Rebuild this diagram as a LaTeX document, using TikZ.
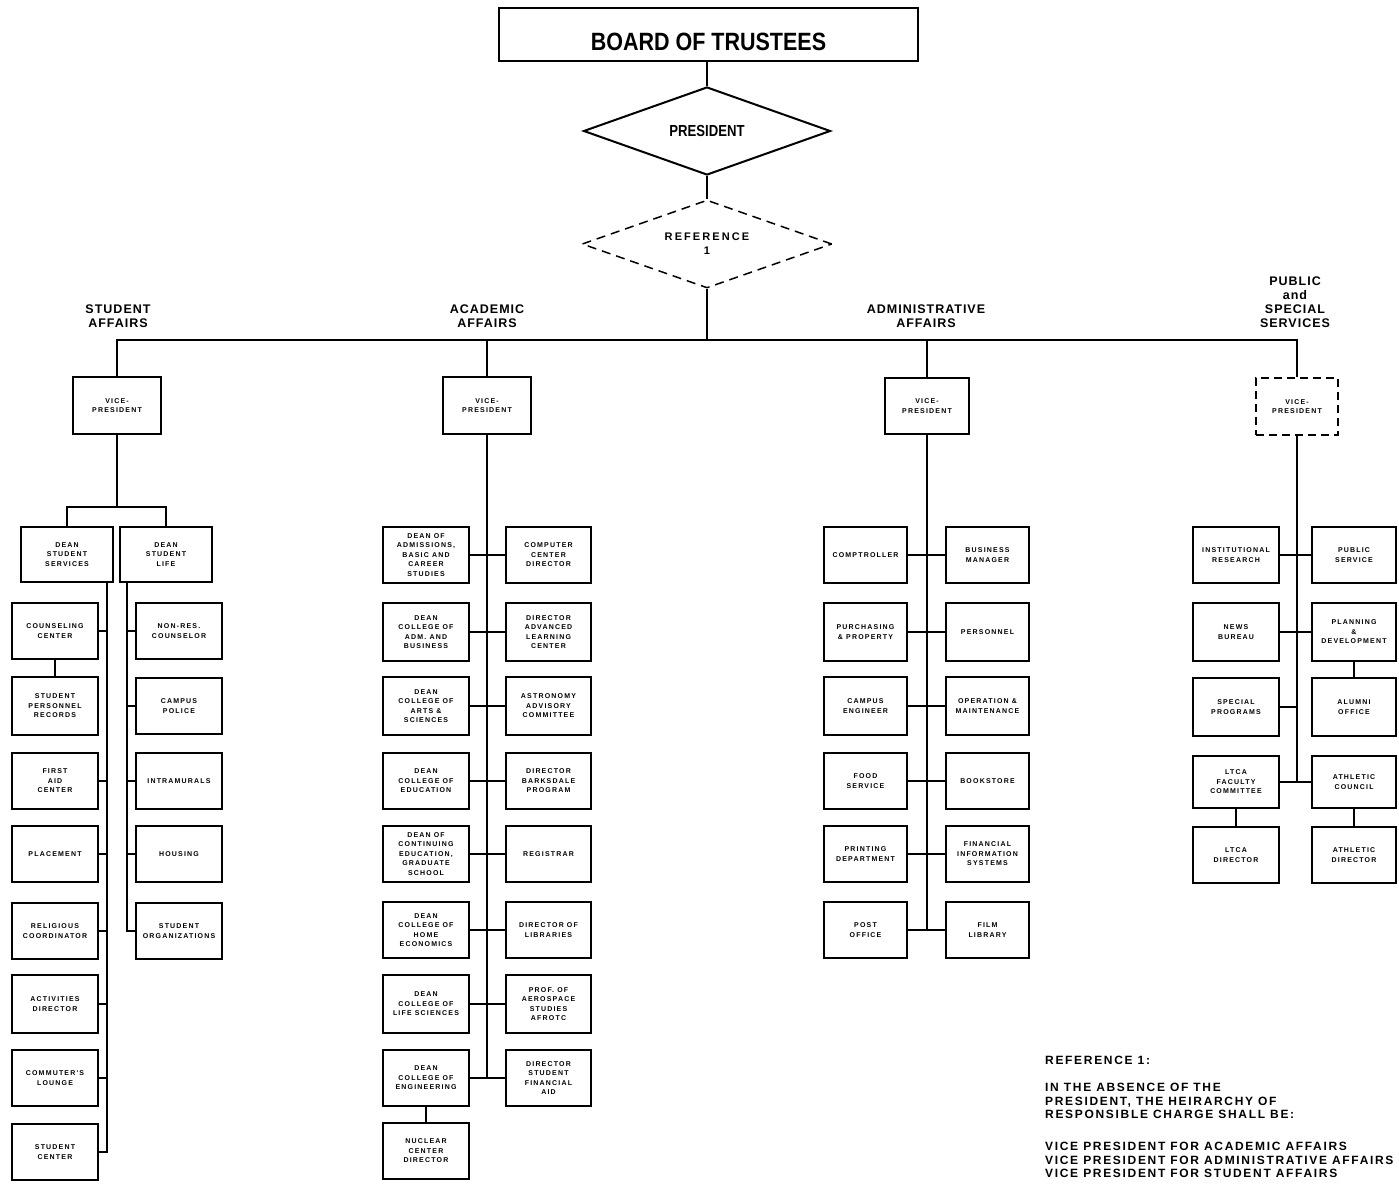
\documentclass[tikz,border=0pt]{standalone}
\usepackage{fontspec}
\setmainfont{Liberation Sans}
\newfontfamily\boxfont[LetterSpace=17]{Liberation Sans}
\newfontfamily\headfont[LetterSpace=8]{Liberation Sans}
\newfontfamily\notefont[LetterSpace=14]{Liberation Sans}
\newfontfamily\reffont[LetterSpace=19]{Liberation Sans}
\usetikzlibrary{shapes.geometric}
\tikzset{
  ob/.style={draw, line width=2pt, rectangle, inner sep=0pt, align=center,
    font=\boxfont\bfseries\fontsize{7}{9.5}\selectfont},
  link/.style={line width=2pt},
  hdr/.style={align=center, inner sep=0pt, font=\headfont\bfseries\fontsize{12.5}{14}\selectfont},
}
\newcommand\orgbox[7][]{\node[ob,#1, minimum width={#5-#3}, minimum height={#6-#4}] (#2) at ({(#3+#5)/2},{(#4+#6)/2}) {#7};}
\begin{document}
\begin{tikzpicture}[x=1pt,y=-1pt]
\useasboundingbox[fill=white] (0,0) rectangle (1399,1186);
% top
\node[draw, line width=2pt, minimum width=419, minimum height=53, inner sep=0pt] (bot) at (708.5,34.5)
  {\raisebox{-15.5pt}[0pt][0pt]{\fontsize{25}{30}\selectfont\bfseries\scalebox{0.86}[1]{BOARD OF TRUSTEES}}};
\node[diamond, draw, line width=2pt, aspect=2.8, minimum width=247, minimum height=88, inner sep=0pt] (pres) at (707,131)
  {\fontsize{16}{18}\selectfont\bfseries\scalebox{0.82}[1]{PRESIDENT}};
\node[diamond, draw, line width=1.5pt, dash pattern=on 9pt off 6pt, aspect=2.8, minimum width=250, minimum height=88, inner sep=0pt,
  align=center, font=\reffont\bfseries\fontsize{11}{14}\selectfont] (ref) at (707,244) {REFERENCE\\1};
\draw[link] (pres.north) -- (pres.north |- bot.south);
\draw[link] (pres.south) -- (ref.north);
% headers
\node[hdr] (hs) at (118,316) {STUDENT\\AFFAIRS};
\node[hdr] (ha) at (487,316) {ACADEMIC\\AFFAIRS};
\node[hdr] (hd) at (926,316) {ADMINISTRATIVE\\AFFAIRS};
\node[hdr] (hp) at (1295,302) {PUBLIC\\and\\SPECIAL\\SERVICES};
% vice presidents
\orgbox{vps}{73}{377}{161}{434}{VICE-\\PRESIDENT}
\orgbox{vpa}{443}{377}{531}{434}{VICE-\\PRESIDENT}
\orgbox{vpd}{885}{378}{969}{434}{VICE-\\PRESIDENT}
\orgbox[dash pattern=on 8pt off 5pt]{vpp}{1256}{378}{1338}{435}{VICE-\\PRESIDENT}
\coordinate (bar) at (0,340);
\draw[link] (vps.north) -- (vps.north |- bar) -- (vpp.north |- bar) -- (vpp.north);
\draw[link] (vpa.north) -- (vpa.north |- bar);
\draw[link] (vpd.north) -- (vpd.north |- bar);
\draw[link] (ref.south) -- (ref.south |- bar);
% student affairs
\orgbox{dss}{21}{527}{113}{582}{DEAN\\STUDENT\\SERVICES}
\orgbox{dsl}{120}{527}{212}{582}{DEAN\\STUDENT\\LIFE}
\orgbox{cc}{12}{603}{98}{659}{COUNSELING\\CENTER}
\orgbox{spr}{12}{677}{98}{735}{STUDENT\\PERSONNEL\\RECORDS}
\orgbox{fa}{12}{753}{98}{809}{FIRST\\AID\\CENTER}
\orgbox{pl}{12}{826}{98}{882}{PLACEMENT}
\orgbox{rc}{12}{903}{98}{959}{RELIGIOUS\\COORDINATOR}
\orgbox{act}{12}{975}{98}{1033}{ACTIVITIES\\DIRECTOR}
\orgbox{cl}{12}{1050}{98}{1106}{COMMUTER'S\\LOUNGE}
\orgbox{sc}{12}{1124}{98}{1180}{STUDENT\\CENTER}
\orgbox{nrc}{136}{603}{222}{659}{NON-RES.\\COUNSELOR}
\orgbox{cp}{136}{678}{222}{734}{CAMPUS\\POLICE}
\orgbox{im}{136}{753}{222}{809}{INTRAMURALS}
\orgbox{ho}{136}{826}{222}{882}{HOUSING}
\orgbox{so}{136}{903}{222}{959}{STUDENT\\ORGANIZATIONS}
\draw[link] (vps.south) -- ++(0,72) coordinate (sj);
\draw[link] (dss.north) -- (dss.north |- sj) -- (dsl.north |- sj) -- (dsl.north);
\coordinate (sT) at (107,582);
\coordinate (lT) at (127,582);
\draw[link] (sT) |- (sc.east);
\foreach \n in {cc,fa,pl,rc,act,cl} \draw[link] (\n.east) -- (\n.east -| sT);
\draw[link] (cc) -- (spr);
\draw[link] (lT) |- (so.west);
\foreach \n in {nrc,cp,im,ho} \draw[link] (\n.west) -- (\n.west -| lT);
% academic affairs
\orgbox{al1}{383}{527}{469}{583}{DEAN OF\\ADMISSIONS,\\BASIC AND\\CAREER\\STUDIES}
\orgbox{al2}{383}{603}{469}{661}{DEAN\\COLLEGE OF\\ADM. AND\\BUSINESS}
\orgbox{al3}{383}{677}{469}{735}{DEAN\\COLLEGE OF\\ARTS \&\\SCIENCES}
\orgbox{al4}{383}{753}{469}{809}{DEAN\\COLLEGE OF\\EDUCATION}
\orgbox{al5}{383}{826}{469}{882}{DEAN OF\\CONTINUING\\EDUCATION,\\GRADUATE\\SCHOOL}
\orgbox{al6}{383}{902}{469}{958}{DEAN\\COLLEGE OF\\HOME\\ECONOMICS}
\orgbox{al7}{383}{975}{469}{1033}{DEAN\\COLLEGE OF\\LIFE SCIENCES}
\orgbox{al8}{383}{1050}{469}{1106}{DEAN\\COLLEGE OF\\ENGINEERING}
\orgbox{nuc}{383}{1123}{469}{1179}{NUCLEAR\\CENTER\\DIRECTOR}
\orgbox{ar1}{506}{527}{591}{583}{COMPUTER\\CENTER\\DIRECTOR}
\orgbox{ar2}{506}{603}{591}{661}{DIRECTOR\\ADVANCED\\LEARNING\\CENTER}
\orgbox{ar3}{506}{677}{591}{735}{ASTRONOMY\\ADVISORY\\COMMITTEE}
\orgbox{ar4}{506}{753}{591}{809}{DIRECTOR\\BARKSDALE\\PROGRAM}
\orgbox{ar5}{506}{826}{591}{882}{REGISTRAR}
\orgbox{ar6}{506}{902}{591}{958}{DIRECTOR OF\\LIBRARIES}
\orgbox{ar7}{506}{975}{591}{1033}{PROF. OF\\AEROSPACE\\STUDIES\\AFROTC}
\orgbox{ar8}{506}{1050}{591}{1106}{DIRECTOR\\STUDENT\\FINANCIAL\\AID}
\draw[link] (vpa.south) -- (vpa.south |- al8.east);
\foreach \i in {1,...,8} \draw[link] (al\i) -- (ar\i);
\draw[link] (al8) -- (nuc);
% administrative affairs
\orgbox{dl1}{824}{527}{907}{583}{COMPTROLLER}
\orgbox{dl2}{824}{603}{907}{661}{PURCHASING\\\& PROPERTY}
\orgbox{dl3}{824}{677}{907}{735}{CAMPUS\\ENGINEER}
\orgbox{dl4}{824}{753}{907}{809}{FOOD\\SERVICE}
\orgbox{dl5}{824}{826}{907}{882}{PRINTING\\DEPARTMENT}
\orgbox{dl6}{824}{902}{907}{958}{POST\\OFFICE}
\orgbox{dr1}{946}{527}{1029}{583}{BUSINESS\\MANAGER}
\orgbox{dr2}{946}{603}{1029}{661}{PERSONNEL}
\orgbox{dr3}{946}{677}{1029}{735}{OPERATION \&\\MAINTENANCE}
\orgbox{dr4}{946}{753}{1029}{809}{BOOKSTORE}
\orgbox{dr5}{946}{826}{1029}{882}{FINANCIAL\\INFORMATION\\SYSTEMS}
\orgbox{dr6}{946}{902}{1029}{958}{FILM\\LIBRARY}
\draw[link] (vpd.south) -- (vpd.south |- dl6.east);
\foreach \i in {1,...,6} \draw[link] (dl\i) -- (dr\i);
% public and special services
\orgbox{pl1}{1193}{527}{1279}{583}{INSTITUTIONAL\\RESEARCH}
\orgbox{pl2}{1193}{603}{1279}{661}{NEWS\\BUREAU}
\orgbox{pl3}{1193}{678}{1279}{736}{SPECIAL\\PROGRAMS}
\orgbox{pl4}{1193}{756}{1279}{808}{LTCA\\FACULTY\\COMMITTEE}
\orgbox{pl5}{1193}{827}{1279}{883}{LTCA\\DIRECTOR}
\orgbox{pr1}{1312}{527}{1396}{583}{PUBLIC\\SERVICE}
\orgbox{pr2}{1312}{603}{1396}{661}{PLANNING\\\&\\DEVELOPMENT}
\orgbox{pr3}{1312}{678}{1396}{736}{ALUMNI\\OFFICE}
\orgbox{pr4}{1312}{756}{1396}{808}{ATHLETIC\\COUNCIL}
\orgbox{pr5}{1312}{827}{1396}{883}{ATHLETIC\\DIRECTOR}
\draw[link] (vpp.south) -- (vpp.south |- pl4.east);
\foreach \i in {1,2,4} \draw[link] (pl\i) -- (pr\i);
\draw[link] (pl3.east) -- (pl3.east -| vpp.south);
\draw[link] (pr2) -- (pr3);
\draw[link] (pl4) -- (pl5);
\draw[link] (pr4) -- (pr5);
% note
\node[anchor=north west, align=left, inner sep=0pt, font=\notefont\bfseries\fontsize{12}{13.5}\selectfont] (note) at (1045,1056.4)
  {REFERENCE 1:\\[13.5pt]
   IN THE ABSENCE OF THE\\
   PRESIDENT, THE HEIRARCHY OF\\
   RESPONSIBLE CHARGE SHALL BE:\\[18.5pt]
   VICE PRESIDENT FOR ACADEMIC AFFAIRS\\
   VICE PRESIDENT FOR ADMINISTRATIVE AFFAIRS\\
   VICE PRESIDENT FOR STUDENT AFFAIRS};
\end{tikzpicture}
\end{document}
